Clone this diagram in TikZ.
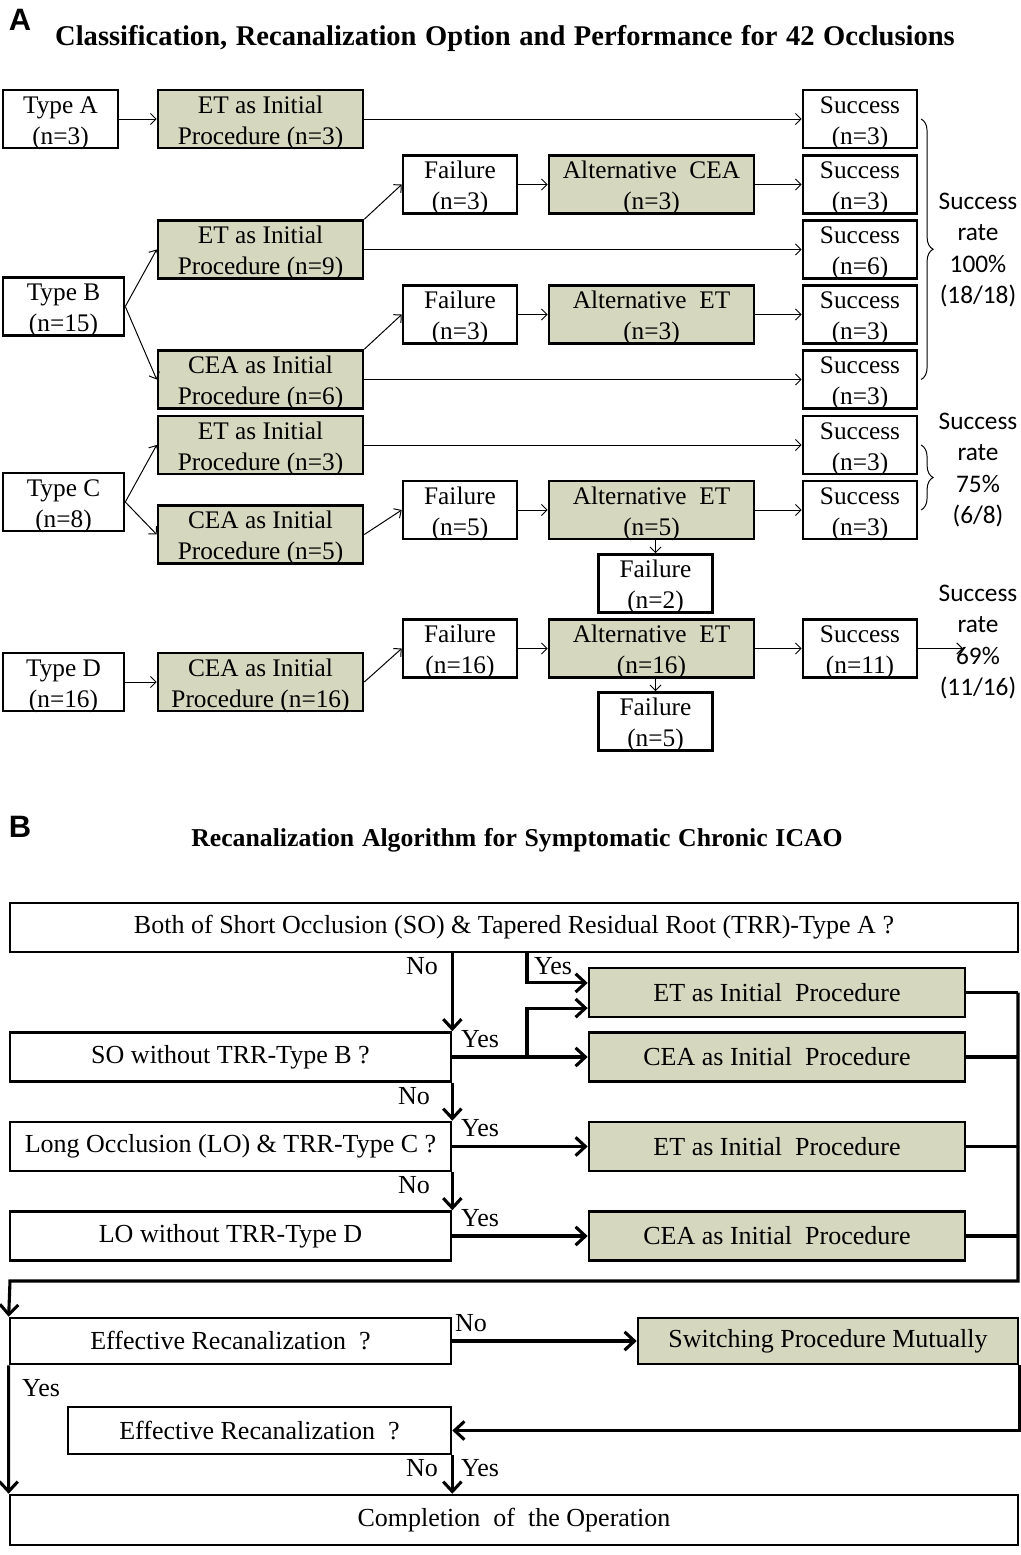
\documentclass[tikz,border=0pt]{standalone}
\usepackage{amsmath,amssymb}
\usepackage{xcolor}
\usepackage{fontspec}
\setmainfont{Liberation Serif}
\newfontfamily\ratefont{Carlito}
\newfontfamily\letterfont{Liberation Sans}
\newfontfamily\headfont[WordSpace=1.2]{Liberation Serif}
\usetikzlibrary{arrows.meta,decorations.pathreplacing}
\definecolor{procfill}{RGB}{213,215,190}
\newcommand\pair[2]{\begin{tabular}[t]{@{}c@{}}#1\\#2\end{tabular}}

\begin{document}
\begin{tikzpicture}[x=0.025cm,y=-0.025cm,
  txt/.style={font=\fontsize{18}{22}\selectfont},
  box/.style={txt,draw,line width=1.8pt,inner sep=0pt,minimum height=1.45cm,
    text height=16.4pt,text depth=24.5pt},
  typebox/.style={box,minimum width=3.025cm},
  result/.style={box,minimum width=2.85cm},
  proc/.style={box,fill=procfill,minimum width=5.125cm},
  rate/.style={font=\ratefont\fontsize{18}{22.2}\selectfont,align=center,inner sep=0pt},
  thinarrow/.style={->,>={Straight Barb[length=4pt,width=8pt]},line width=0.7pt},
  letter/.style={font=\letterfont\bfseries\fontsize{22}{22}\selectfont,inner sep=0pt},
  title/.style={inner sep=0pt},
  qbox/.style={font=\fontsize{18.5}{22}\selectfont,draw,line width=1.8pt,inner sep=0pt,minimum height=1.225cm},
  pbox/.style={qbox,fill=procfill,minimum width=9.4cm},
  flow/.style={->,>={Straight Barb[length=7pt,width=13pt]},line width=2.2pt},
  yn/.style={font=\fontsize{18.5}{22}\selectfont,inner sep=0pt}]
  \useasboundingbox (0,0) rectangle (1020,1555);

  \node[letter] (labA) at (20,20) {A};
  \node[title,font=\headfont\bfseries\fontsize{20.3}{22}\selectfont] (titleA) at (505,38) {Classification, Recanalization Option and Performance for 42 Occlusions};

  \node[box,minimum width=2.875cm] (typeA) at (60.5,119) {\pair{Type A}{(n=3)}};
  \foreach \n/\y/\k in {B/306.5/15, C/502/8, D/682/16}
    \node[typebox] (type\n) at (63.5,\y) {\pair{Type \n}{(n=\k)}};
  \foreach \n/\y/\m/\k in {etA/119/ET/3, etB/249.5/ET/9, ceaB/379.5/CEA/6,
                          etC/445/ET/3, ceaC/534.5/CEA/5, ceaD/682/CEA/16}
    \node[proc] (\n) at (260.5,\y) {\pair{\m{} as Initial}{Procedure (n=\k)}};
  \foreach \n/\y/\k in {failB1/184.5/3, failB2/314.5/3, failC/510/5, failD/648.5/16}
    \node[result] (\n) at (460,\y) {\pair{Failure}{(n=\k)}};
  \foreach \n/\y/\m/\k in {altB1/184.5/CEA/3, altB2/314.5/ET/3, altC/510/ET/5, altD/648.5/ET/16}
    \node[proc] (\n) at (651.5,\y) {\pair{Alternative\ \ \m}{(n=\k)}};
  \foreach \n/\y/\k in {succA/119/3, succB1/184.5/3, succB2/249.5/6, succB3/314.5/3,
                        succB4/379.5/3, succC1/445/3, succC2/510/3, succD/648.5/11}
    \node[result] (\n) at (860,\y) {\pair{Success}{(n=\k)}};
  \node[result] (failC2) at (655.5,583.5) {\pair{Failure}{(n=2)}};
  \node[result] (failD2) at (655.5,721.5) {\pair{Failure}{(n=5)}};
  \coordinate (tipD) at (963,648.5);

  \foreach \a/\b in {typeA/etA, etA/succA, etB/succB2, failB1/altB1, altB1/succB1,
                     failB2/altB2, altB2/succB3, ceaB/succB4, etC/succC1, failC/altC,
                     altC/succC2, typeD/ceaD, failD/altD, altD/succD}
    \draw[thinarrow] (\a) -- (\b);
  \foreach \a/\b in {typeB/etB, typeB/ceaB, typeC/etC, typeC/ceaC, ceaC/failC, ceaD/failD}
    \draw[thinarrow] (\a.east) -- (\b.west);
  \draw[thinarrow] (etB.north east) -- (failB1.west);
  \draw[thinarrow] (ceaB.north east) -- (failB2.west);
  \draw[thinarrow] (failC2.north |- altC.south) -- (failC2.north);
  \draw[thinarrow] (failD2.north |- altD.south) -- (failD2.north);
  \draw[thinarrow] (succD.east) -- (tipD);

  \draw[line width=0.7pt,decorate,decoration={brace,amplitude=0.3cm}]
    ([xshift=0.07cm]succA.east) -- ([xshift=0.07cm]succB4.east);
  \draw[line width=0.7pt,decorate,decoration={brace,amplitude=0.3cm}]
    ([xshift=0.07cm]succC1.east) -- ([xshift=0.07cm]succC2.east);
  \node[rate] (rateB) at (978,250) {Success\\rate\\100\%\\(18/18)};
  \node[rate] (rateC) at (978,470) {Success\\rate\\75\%\\(6/8)};
  \node[rate] (rateD) at (978,642) {Success\\rate\\69\%\\(11/16)};

  \node[letter] (labB) at (20,827) {B};
  \node[title,font=\headfont\bfseries\fontsize{18.3}{22}\selectfont] (titleB) at (517,840) {Recanalization Algorithm for Symptomatic Chronic ICAO};

  \node[qbox,minimum width=25.2cm] (q1) at (514,927.5) {Both of Short Occlusion (SO) \& Tapered Residual Root (TRR)-Type A ?};
  \node[qbox,minimum width=11.025cm] (q2) at (230.5,1057) {SO without TRR-Type B ?};
  \node[qbox,minimum width=11.025cm] (q3) at (230.5,1146.5) {Long Occlusion (LO) \& TRR-Type C ?};
  \node[qbox,minimum width=11.025cm] (q4) at (230.5,1236) {LO without TRR-Type D};
  \node[pbox] (etI) at (777,992.5) {ET as Initial\ \ Procedure};
  \node[pbox] (ceaI) at (777,1057) {CEA as Initial\ \ Procedure};
  \node[pbox] (etII) at (777,1146.5) {ET as Initial\ \ Procedure};
  \node[pbox] (ceaII) at (777,1236) {CEA as Initial\ \ Procedure};
  \node[qbox,minimum width=11.025cm,minimum height=1.15cm] (eff1) at (230.5,1341) {Effective Recanalization\ \ ?};
  \node[qbox,fill=procfill,minimum width=9.5cm,minimum height=1.15cm] (switch) at (828,1341) {Switching Procedure Mutually};
  \node[qbox,minimum width=9.575cm,minimum height=1.175cm] (eff2) at (259.5,1430.5) {Effective Recanalization\ \ ?};
  \node[qbox,minimum width=25.2cm,minimum height=1.25cm] (done) at (514,1520) {Completion\ \ of\ \ the Operation};
  \coordinate (fork) at (527,960);
  \coordinate (rt) at (1018,960);
  \coordinate (loopR) at (1018,1281);
  \coordinate (loopL) at (10,1281);

  \draw[flow] (q2.north east |- q1.south) -- (q2.north east);
  \draw[flow] (fork |- q1.south) |- ([yshift=0.24cm]etI.west);
  \draw[flow] (q2.east) -- (ceaI.west);
  \draw[flow] (q2.east -| fork) |- ([yshift=-0.39cm]etI.west);
  \draw[flow] (q2.south east) -- (q3.north east);
  \draw[flow] (q3.east) -- (etII.west);
  \draw[flow] (q3.south east) -- (q4.north east);
  \draw[flow] (q4.east) -- (ceaII.west);
  \foreach \b in {etI, ceaI, etII, ceaII}
    \draw[line width=2.2pt] (\b.east) -- (\b.east -| rt);
  \draw[flow] (etI.east -| rt) -- (loopR) -- (loopL) -- (eff1.north west);
  \draw[flow] (eff1.east) -- (switch.west);
  \draw[flow] (switch.south east) |- (eff2.east);
  \draw[flow] (eff1.south west) -- (done.north west);
  \draw[flow] (eff2.south east) -- (eff2.south east |- done.north);

  \node[yn] (no1) at (422,966) {No};
  \node[yn] (yes1) at (553,966) {Yes};
  \node[yn] (yes2) at (480,1039) {Yes};
  \node[yn] (no2) at (414,1096) {No};
  \node[yn] (yes3) at (480,1128) {Yes};
  \node[yn] (no3) at (414,1185) {No};
  \node[yn] (yes4) at (480,1218) {Yes};
  \node[yn] (no4) at (471,1323) {No};
  \node[yn] (yes5) at (41,1388) {Yes};
  \node[yn] (no5) at (422,1468) {No};
  \node[yn] (yes6) at (480,1468) {Yes};
\end{tikzpicture}
\end{document}
